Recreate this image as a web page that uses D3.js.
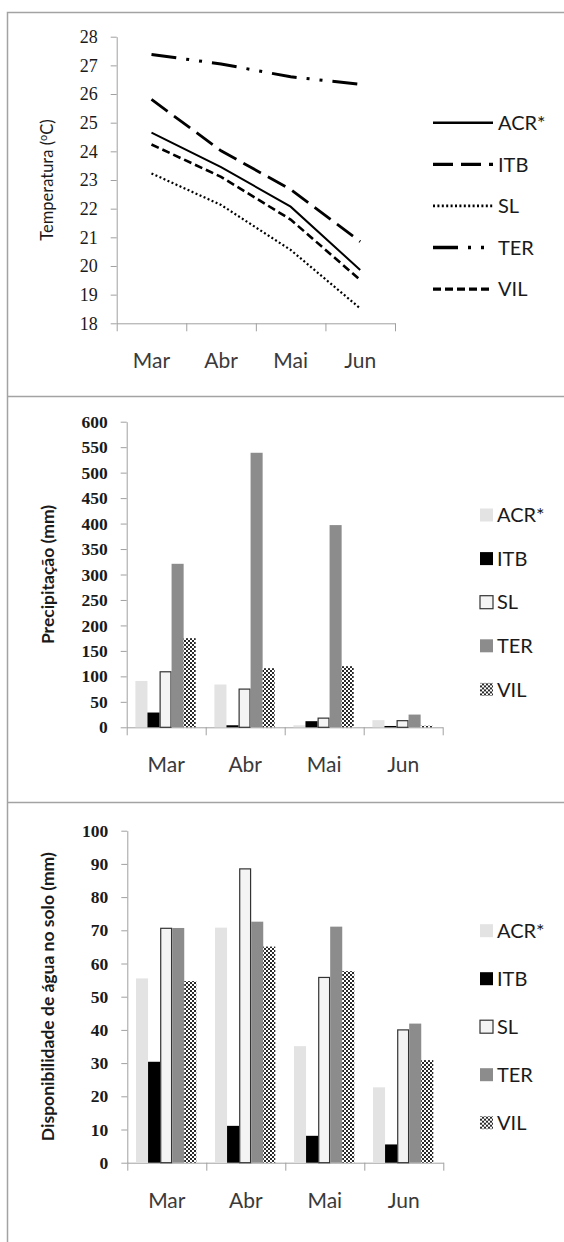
<!DOCTYPE html>
<html lang="pt">
<head>
<meta charset="UTF-8">
<title>Temperatura, precipitação e água no solo</title>
<script src="https://cdn.jsdelivr.net/npm/d3@7"></script>
<style>
  body { margin: 0; background: #fff; }
  svg { display: block; }
</style>
</head>
<body>
<script>
// categorias e séries
const months = ["Mar", "Abr", "Mai", "Jun"];
const sites = ["ACR*", "ITB", "SL", "TER", "VIL"];

// Temperatura (ºC)
const tempACR = [24.65, 23.45, 22.07, 19.86];
const tempITB = [25.81, 24.02, 22.67, 20.85];
const tempSL  = [23.23, 22.13, 20.56, 18.52];
const tempTER = [27.38, 27.05, 26.60, 26.34];
const tempVIL = [24.24, 23.11, 21.62, 19.51];

// Precipitação (mm)
const precACR = [91, 84, 4, 14];
const precITB = [29, 4, 12, 2.6];
const precSL  = [109, 75, 18, 13];
const precTER = [321, 539, 397, 25];
const precVIL = [175, 116, 120, 3];

// Disponibilidade de água no solo (mm)
const soloACR = [55.5, 70.8, 35.1, 22.7];
const soloITB = [30.4, 11.1, 8.1, 5.5];
const soloSL  = [70.6, 88.5, 55.8, 40.0];
const soloTER = [70.7, 72.6, 71.1, 41.9];
const soloVIL = [54.7, 65.1, 57.7, 30.9];

const tempTicks = [18, 19, 20, 21, 22, 23, 24, 25, 26, 27, 28];
const precTicks = [0, 50, 100, 150, 200, 250, 300, 350, 400, 450, 500, 550, 600];
const soloTicks = [0, 10, 20, 30, 40, 50, 60, 70, 80, 90, 100];

const width = 564, height = 1242;
const sansFont = "Lato, 'Open Sans', sans-serif";
const serifFont = "'Liberation Serif', 'DejaVu Serif', serif";

const svg = d3.select("body").append("svg")
    .attr("width", width)
    .attr("height", height);

// pattern for VIL (small checkerboard)
const defs = svg.append("defs");
const pat = defs.append("pattern")
    .attr("id", "checks")
    .attr("width", 4).attr("height", 4)
    .attr("patternUnits", "userSpaceOnUse");
pat.append("rect").attr("width", 4).attr("height", 4).attr("fill", "#fff");
pat.append("rect").attr("width", 2).attr("height", 2).attr("fill", "#2a2a2a");
pat.append("rect").attr("x", 2).attr("y", 2).attr("width", 2).attr("height", 2).attr("fill", "#2a2a2a");

// panel frame lines
const frame = svg.append("g").attr("stroke", "#a3a3a3").attr("stroke-width", 1.5).attr("fill", "none");
frame.append("path").attr("d", "M7.5,1242V12.5H570");
frame.append("path").attr("d", "M7.5,396.5H570");
frame.append("path").attr("d", "M7.5,802.5H570");

// shared axis drawing
function drawAxes(g, x, y, ticks, tickWeight, tickSize, title, titleWeight, titleSize, titleX) {
    const [x0, x1] = x.range();
    const [yb, yt] = y.range();

    const ya = g.append("g")
        .attr("transform", `translate(${x0},0)`)
        .call(d3.axisLeft(y).tickValues(ticks).tickSize(6).tickSizeOuter(0).tickPadding(13));
    ya.select(".domain").attr("stroke", "#a0a0a0");
    ya.selectAll(".tick line").attr("stroke", "#a0a0a0");
    ya.selectAll(".tick text")
        .style("font-family", serifFont)
        .style("font-size", tickSize + "px")
        .style("font-weight", tickWeight)
        .attr("fill", "#1a1a1a");

    // x axis: ticks at category boundaries
    const edge = d3.scaleLinear().domain([0, months.length]).range([x0, x1]);
    const xa = g.append("g")
        .attr("transform", `translate(0,${yb})`)
        .call(d3.axisBottom(edge).tickValues(d3.range(months.length + 1)).tickSize(8).tickSizeOuter(0).tickFormat(""));
    xa.select(".domain").attr("stroke", "#a0a0a0");
    xa.selectAll(".tick line").attr("stroke", "#a0a0a0");

    g.append("g").selectAll("text")
        .data(months)
        .join("text")
        .attr("x", d => x(d) + x.bandwidth() / 2)
        .attr("y", yb + 45)
        .attr("text-anchor", "middle")
        .style("font-family", sansFont)
        .style("font-size", "21px")
        .attr("fill", "#3a3a3a")
        .text(d => d);

    const t = g.append("text")
        .attr("transform", `translate(${titleX},${(yb + yt) / 2}) rotate(-90)`)
        .attr("text-anchor", "middle")
        .attr("dominant-baseline", "middle")
        .style("font-family", sansFont)
        .style("font-size", titleSize + "px")
        .style("font-weight", titleWeight)
        .attr("fill", "#1a1a1a");
    title(t);
}

// ---------- Panel 1: temperatura ----------
const tempSeries = [
    { name: "ACR*", values: tempACR, dash: null, w: 2 },
    { name: "ITB", values: tempITB, dash: "20,8", w: 2.8 },
    { name: "SL", values: tempSL, dash: "2,2.4", w: 2.2 },
    { name: "TER", values: tempTER, dash: "25,10,3,10,3,10", w: 3 },
    { name: "VIL", values: tempVIL, dash: "8,4", w: 2.6 }
];

const x1 = d3.scaleBand().domain(months).range([116.7, 395]);
const y1 = d3.scaleLinear().domain([18, 28]).range([323.3, 36.7]);
const g1 = svg.append("g");

drawAxes(g1, x1, y1, tempTicks, "normal", 18, t => {
    t.append("tspan").text("Temperatura (");
    t.append("tspan").style("font-size", "11px").attr("dy", -5).text("o");
    t.append("tspan").attr("dy", 5).text("C)");
}, "normal", 16.5, 49);

const line = d3.line()
    .x((d, i) => x1(months[i]) + x1.bandwidth() / 2)
    .y(d => y1(d));

g1.append("g").selectAll("path")
    .data(tempSeries)
    .join("path")
    .attr("d", d => line(d.values))
    .attr("fill", "none")
    .attr("stroke", "#000")
    .attr("stroke-width", d => d.w)
    .attr("stroke-dasharray", d => d.dash);

const leg1 = g1.append("g").selectAll("g")
    .data(tempSeries)
    .join("g")
    .attr("transform", (d, i) => `translate(0,${122.7 + i * 41.6})`);
leg1.append("line")
    .attr("x1", 433).attr("x2", 493)
    .attr("stroke", "#000")
    .attr("stroke-width", d => d.w + 0.5)
    .attr("stroke-dasharray", d => d.dash);
leg1.append("text")
    .attr("x", 498).attr("dy", "0.36em")
    .style("font-family", sansFont).style("font-size", "20px")
    .attr("fill", "#1a1a1a")
    .text(d => d.name);

// ---------- bar panels ----------
const barStyles = {
    "ACR*": { fill: "#e3e3e3", stroke: "none" },
    "ITB": { fill: "#000", stroke: "none" },
    "SL": { fill: "#f4f4f4", stroke: "#333" },
    "TER": { fill: "#8c8c8c", stroke: "none" },
    "VIL": { fill: "url(#checks)", stroke: "none" }
};

function barPanel(seriesValues, x, y, ticks, titleText, legendY, legendStep) {
    const g = svg.append("g");
    drawAxes(g, x, y, ticks, "bold", 17.5, t => t.text(titleText), "bold", 17.5, 50);

    const xs = d3.scaleBand().domain(sites).range([8.7, x.bandwidth() - 10]);
    const rows = months.map((m, i) => sites.map((s, j) => ({ month: m, site: s, value: seriesValues[j][i] }))).flat();

    g.append("g").selectAll("rect")
        .data(rows)
        .join("rect")
        .attr("x", d => x(d.month) + xs(d.site) + (barStyles[d.site].stroke !== "none" ? 0.6 : 0))
        .attr("y", d => y(d.value))
        .attr("width", d => xs.bandwidth() - (barStyles[d.site].stroke !== "none" ? 1.2 : 0))
        .attr("height", d => y(0) - y(d.value))
        .attr("fill", d => barStyles[d.site].fill)
        .attr("stroke", d => barStyles[d.site].stroke)
        .attr("stroke-width", 1.2);

    const leg = g.append("g").selectAll("g")
        .data(sites)
        .join("g")
        .attr("transform", (d, i) => `translate(0,${legendY + i * legendStep})`);
    leg.append("rect")
        .attr("x", 480).attr("y", -6.5)
        .attr("width", 13).attr("height", 13)
        .attr("fill", d => barStyles[d].fill)
        .attr("stroke", d => barStyles[d].stroke)
        .attr("stroke-width", 1.2);
    leg.append("text")
        .attr("x", 497).attr("dy", "0.36em")
        .style("font-family", sansFont).style("font-size", "20px")
        .attr("fill", "#1a1a1a")
        .text(d => d);
}

const x2 = d3.scaleBand().domain(months).range([126.7, 442.7]);
const y2 = d3.scaleLinear().domain([0, 600]).range([727.3, 421.7]);
barPanel([precACR, precITB, precSL, precTER, precVIL], x2, y2, precTicks, "Precipitação (mm)", 515, 43.6);

const x3 = d3.scaleBand().domain(months).range([127.3, 443.3]);
const y3 = d3.scaleLinear().domain([0, 100]).range([1162.7, 830.7]);
barPanel([soloACR, soloITB, soloSL, soloTER, soloVIL], x3, y3, soloTicks, "Disponibilidade de água no solo (mm)", 930.7, 48);
</script>
</body>
</html>
